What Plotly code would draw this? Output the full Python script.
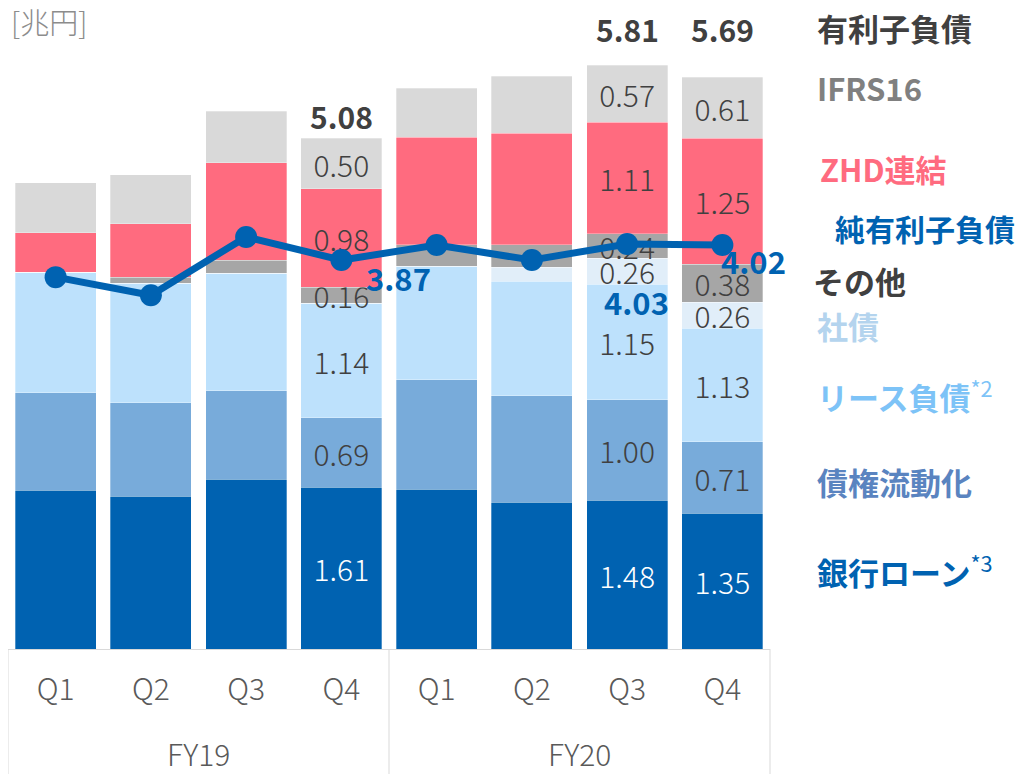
import plotly.graph_objects as go

# categories
fiscal_years = ["FY19"] * 4 + ["FY20"] * 4
quarters = ["Q1", "Q2", "Q3", "Q4"] * 2
periods = [f"{fy} {q}" for fy, q in zip(fiscal_years, quarters)]

# 有利子負債の内訳 [兆円]
bank_loan = [1.58, 1.52, 1.69, 1.61, 1.59, 1.46, 1.48, 1.35]
securitization = [0.97, 0.93, 0.88, 0.69, 1.09, 1.06, 1.00, 0.71]
lease = [1.20, 1.19, 1.17, 1.14, 1.13, 1.14, 1.15, 1.13]
bonds = [0, 0, 0, 0, 0, 0.14, 0.26, 0.26]
other = [0, 0.06, 0.13, 0.16, 0.21, 0.22, 0.24, 0.38]
zhd = [0.39, 0.53, 0.97, 0.98, 1.07, 1.11, 1.11, 1.25]
ifrs16 = [0.50, 0.49, 0.51, 0.50, 0.49, 0.57, 0.57, 0.61]
net_debt = [3.70, 3.52, 4.10, 3.87, 4.02, 3.87, 4.03, 4.02]

labeled_bars = [3, 6, 7]
total_labels = {3: "5.08", 6: "5.81", 7: "5.69"}

FONT = "Noto Sans CJK JP"
BLUE = "#0062B1"
GRID = "#D9D9D9"
n = len(periods)

# the page body has an 8px margin, so the figure is 8px smaller than the window
W, H = 1018, 766
PL, PT, PW, PH = 0, 2, 762, 639


def px_x(sx):
    # screen x -> paper x
    return (sx - 8 - PL) / PW


def px_y(sy):
    # screen y -> paper y
    return (PT + 8 + PH - sy) / PH


def seg_text(vals):
    return [f"{v:.2f}" if (i in labeled_bars and v > 0) else "" for i, v in enumerate(vals)]


segments = [
    ("銀行ローン", bank_loan, BLUE, "white"),
    ("債権流動化", securitization, "#78ABDA", "#404040"),
    ("リース負債", lease, "#BDE1FC", "#404040"),
    ("社債", bonds, "#E1EEF9", "#404040"),
    ("その他", other, "#A6A6A6", "#404040"),
    ("ZHD連結", zhd, "#FF6B7F", "#404040"),
    ("IFRS16", ifrs16, "#D9D9D9", "#404040"),
]

fig = go.Figure()
for name, vals, color, tcolor in segments:
    fig.add_trace(go.Bar(
        x=periods, y=vals, name=name,
        marker=dict(color=color, line=dict(color="rgba(255,255,255,0.6)", width=0.5)),
        text=seg_text(vals), textposition="inside", insidetextanchor="middle",
        textangle=0, textfont=dict(family=FONT, size=30, color=tcolor, weight=300),
    ))

fig.add_trace(go.Scatter(
    x=periods, y=net_debt, name="純有利子負債", mode="lines+markers",
    line=dict(color=BLUE, width=7), marker=dict(color=BLUE, size=22),
))

totals = [sum(v) for v in zip(bank_loan, securitization, lease, bonds, other, zhd, ifrs16)]

annotations = []
# totals above bars (FY20 ones sit on one line)
for i, lab in total_labels.items():
    y = totals[i] if i == 3 else max(totals[6], totals[7])
    annotations.append(dict(
        x=periods[i], y=y, yanchor="bottom", yshift=-2 if i == 3 else 12,
        text=f"<b>{lab}</b>", showarrow=False,
        font=dict(family=FONT, size=30, color="#404040"),
    ))

# net debt labels
for i, dx, dy in [(3, 57, -17), (6, 9, -58), (7, 31, -16)]:
    annotations.append(dict(
        x=periods[i], y=net_debt[i], xshift=dx, yshift=dy,
        text=f"<b>{net_debt[i]:.2f}</b>", showarrow=False,
        font=dict(family=FONT, size=31, color=BLUE),
    ))

# fiscal year labels under the quarters
for k, fy in enumerate(["FY19", "FY20"]):
    annotations.append(dict(
        x=0.25 + 0.5 * k, xref="paper", xanchor="center",
        y=px_y(753), yref="paper", yanchor="middle",
        text=fy, showarrow=False, font=dict(family=FONT, size=30, color="#595959", weight=300),
    ))

# legend texts on the right
legend_items = [
    ("<b>有利子負債</b>", "#404040", 27, 815, 31),
    ("<b>IFRS16</b>", "#808080", 88, 815, 31),
    ("<b>ZHD連結</b>", "#FF6B7F", 168, 818, 31),
    ("<b>純有利子負債</b>", BLUE, 228, 833, 30),
    ("<b>その他</b>", "#404040", 280, 811, 31),
    ("<b>社債</b>", "#B4D4EE", 325, 815, 31),
    ("<b>リース負債</b><sup>*2</sup>", "#7DC3F7", 395, 815, 31),
    ("<b>債権流動化</b>", "#5A84C0", 481, 815, 31),
    ("<b>銀行ローン</b><sup>*3</sup>", BLUE, 570, 815, 31),
]
for text, color, sy, sx, size in legend_items:
    annotations.append(dict(
        x=px_x(sx), xref="paper", xanchor="left",
        y=px_y(sy), yref="paper", yanchor="middle",
        text=text, showarrow=False, font=dict(family=FONT, size=size, color=color),
    ))

annotations.append(dict(
    x=px_x(9), xref="paper", xanchor="left",
    y=px_y(21), yref="paper", yanchor="middle",
    text="[兆円]", showarrow=False, font=dict(family=FONT, size=29, color="#8C8C8C", weight=300),
))

# vertical dividers of the category box
shapes = [
    dict(type="line", xref="paper", yref="paper", x0=xd, x1=xd, y0=0, y1=px_y(780),
         line=dict(color=GRID, width=1))
    for xd in [0, 0.5, 1]
]

fig.update_layout(
    width=W, height=H,
    margin=dict(l=PL, r=W - PL - PW, t=PT, b=H - PT - PH, autoexpand=False),
    barmode="stack", bargap=0.15,
    showlegend=False,
    plot_bgcolor="white", paper_bgcolor="white",
    uniformtext=dict(minsize=30, mode="show"),
    annotations=annotations, shapes=shapes,
    font=dict(family=FONT),
)
fig.update_xaxes(
    type="category", automargin=False, range=[-0.5, n - 0.5],
    tickvals=periods, ticktext=quarters, ticklabelstandoff=14,
    showline=True, linecolor=GRID, linewidth=1,
    tickfont=dict(family=FONT, size=30, color="#595959", weight=300),
    showgrid=False,
)
fig.update_yaxes(visible=False, automargin=False, range=[0, PH / 100.5])

fig.write_html("out.html")
